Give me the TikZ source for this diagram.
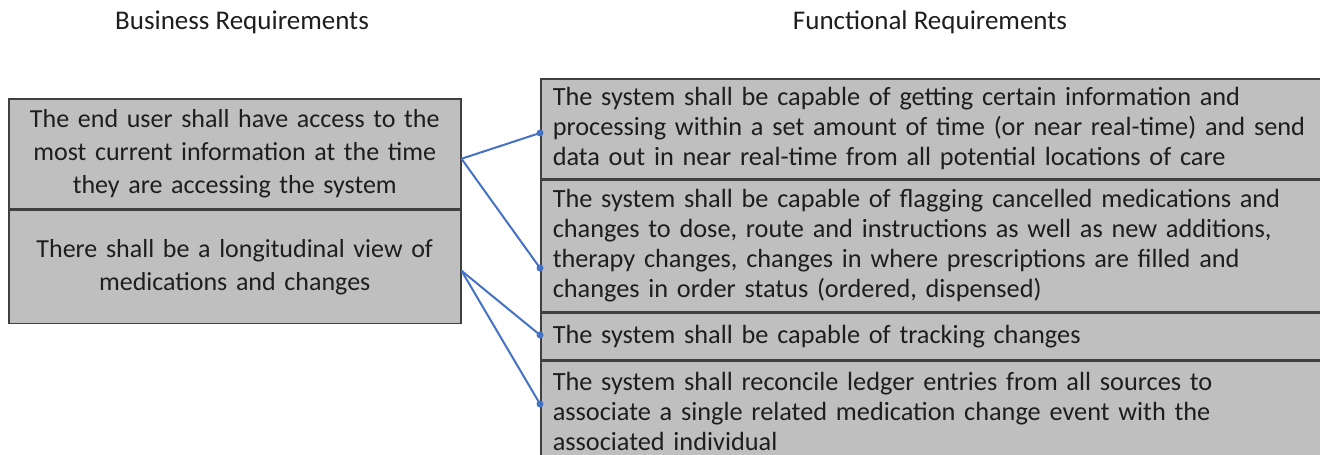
\documentclass[tikz,border=0pt]{standalone}
\usepackage{fontspec}
\setmainfont{Carlito}
\usepackage{tikz}
\usetikzlibrary{positioning}
\definecolor{boxgray}{RGB}{191,191,191}
\definecolor{edgegray}{RGB}{64,64,64}
\definecolor{linkblue}{RGB}{68,114,196}
\definecolor{inkgray}{RGB}{30,30,30}

\tikzset{
  reqbox/.style={draw=edgegray, line width=1.5pt, fill=boxgray, rectangle, text=inkgray},
  bizreq/.style={reqbox, minimum width=452pt, text width=430pt, inner xsep=11pt, inner ysep=0pt, align=center, font=\fontsize{26}{33}\selectfont},
  funreq/.style={reqbox, minimum width=800pt, text width=776pt, inner xsep=12pt, inner ysep=0pt, align=left, font=\fontsize{26.3}{30}\selectfont},
  heading/.style={text=inkgray, font=\fontsize{27}{30}\selectfont},
  link/.style={draw=linkblue, line width=2pt}
}

\begin{document}
\begin{tikzpicture}[x=1pt, y=-1pt]
    \useasboundingbox (0,0) rectangle (1320,455);
    \clip (0,0) rectangle (1320,455);

    \node[heading] (bh) at (242,22) {Business Requirements};
    \node[heading] (fh) at (930,22) {Functional Requirements};

    % business requirements
    \node[bizreq, minimum height=110pt, anchor=north west] (ba) at (8,98)
        {The end user shall have access to the\\ most current information at the time\\ they are accessing the system};
    \node[bizreq, minimum height=113pt, anchor=north west] (bb) at (ba.south west)
        {There shall be a longitudinal view of\\ medications and changes};

    % functional requirements
    \node[funreq, minimum height=100pt, anchor=north west] (fa) at (540,78)
        {The system shall be capable of getting certain information and\\ processing within a set amount of time (or near real-time) and send\\ data out in near real-time from all potential locations of care};
    \node[funreq, minimum height=131pt, anchor=north west] (fb) at (fa.south west)
        {The system shall be capable of flagging cancelled medications and\\ changes to dose, route and instructions as well as new additions,\\ therapy changes, changes in where prescriptions are filled and\\ changes in order status (ordered, dispensed)};
    \node[funreq, minimum height=47pt, anchor=north west] (fc) at (fb.south west)
        {The system shall be capable of tracking changes};
    \node[funreq, minimum height=100pt, anchor=north west] (fd) at (fc.south west)
        {The system shall reconcile ledger entries from all sources to\\ associate a single related medication change event with the\\ associated individual};

    % links
    \coordinate (ja) at ([yshift=-5pt]ba.east);
    \coordinate (jb) at ([yshift=-4pt]bb.east);
    \coordinate (da) at (fa.west |- 0,133);
    \coordinate (db) at (fb.west |- 0,268);
    \coordinate (dc) at (fc.west |- 0,335);
    \coordinate (dd) at (fd.west |- 0,404);

    \draw[link] (ja) -- (da);
    \draw[link] (ja) -- (db);
    \draw[link] (jb) -- (dc);
    \draw[link] (jb) -- (dd);
    \foreach \d in {da,db,dc,dd}
        \fill[linkblue] (\d) circle (3.5pt);
\end{tikzpicture}
\end{document}
